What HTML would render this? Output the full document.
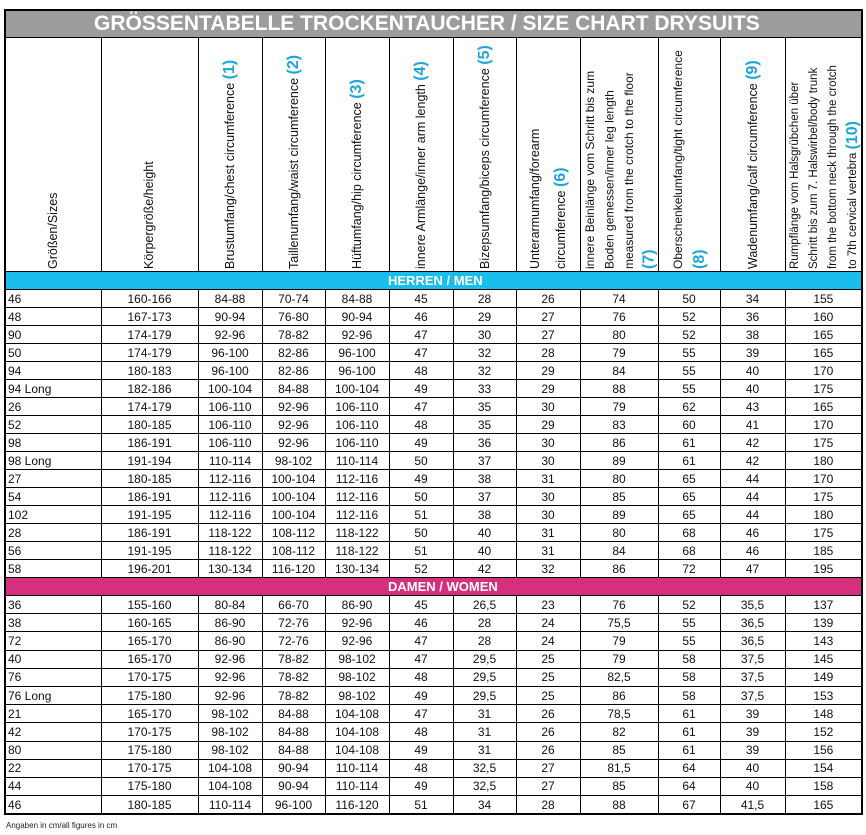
<!DOCTYPE html>
<html><head><meta charset="utf-8"><style>
html,body{margin:0;padding:0;background:#fff;width:866px;height:835px;overflow:hidden}
body{font-family:"Liberation Sans",Arial,sans-serif;position:relative}
table{position:absolute;left:4px;top:9px;border-collapse:collapse;table-layout:fixed;width:858px;border:2.5px solid #000}
td{border:1.3px solid #000;padding:0;font-size:12px;text-align:center;color:#111;overflow:hidden;white-space:nowrap;line-height:14px}
td.l{text-align:left;padding-left:2px}
tr.d td{height:17px}
tr.w td{height:17.2px}
.title td{background:#9c9c9c;color:#fff;font-weight:bold;font-size:21px;height:26px;text-align:left;padding-left:88px}
.hd td{height:233px;vertical-align:bottom}
.v{writing-mode:vertical-rl;transform:rotate(180deg);height:229px;text-align:left;font-size:12.5px;line-height:17px;white-space:nowrap;margin:0 auto 2px}
.n{color:#1ea6da;font-weight:bold;font-size:16px}
.band td{height:17px;color:#fff;font-weight:bold;font-size:13px;text-align:left;padding-left:382px}
.men td{background:#19bdee}
.wom td{background:#d5307d}
.foot{position:absolute;left:6px;top:821px;font-size:8px;color:#222}
</style></head><body>
<table>
<colgroup><col style="width:96px"><col style="width:97px"><col style="width:64px"><col style="width:63px"><col style="width:64px"><col style="width:64px"><col style="width:63px"><col style="width:64px"><col style="width:78px"><col style="width:62px"><col style="width:65px"><col style="width:77px"></colgroup>
<tr class="title"><td colspan="12">GRÖSSENTABELLE TROCKENTAUCHER / SIZE CHART DRYSUITS</td></tr>
<tr class="hd">
<td><div class="v">Größen/Sizes</div></td>
<td><div class="v">Körpergröße/height</div></td>
<td><div class="v">Brustumfang/chest circumference <span class="n">(1)</span></div></td>
<td><div class="v">Taillenumfang/waist circumference <span class="n">(2)</span></div></td>
<td><div class="v">Hüftumfang/hip circumference <span class="n">(3)</span></div></td>
<td><div class="v">innere Armlänge/inner arm length <span class="n">(4)</span></div></td>
<td><div class="v">Bizepsumfang/biceps circumference <span class="n">(5)</span></div></td>
<td><div class="v" style="line-height:26px">Unterarmumfang/forearm<br>circumference <span class="n">(6)</span></div></td>
<td><div class="v" style="line-height:19.5px;font-size:12px;margin-left:0">innere Beinlänge vom Schritt bis zum<br>Boden gemessen/inner leg length<br>measured from the crotch to the floor<br><span class="n">(7)</span></div></td>
<td><div class="v" style="line-height:22px;font-size:12px">Oberschenkelumfang/tight circumference<br><span class="n">(8)</span></div></td>
<td><div class="v">Wadenumfang/calf circumference <span class="n">(9)</span></div></td>
<td><div class="v" style="line-height:19px;font-size:11.5px;margin-left:0">Rumpflänge vom Halsgrübchen über<br>Schritt bis zum 7. Halswirbel/body trunk<br>from the bottom neck through the crotch<br>to 7th cervical vertebra <span class="n">(10)</span></div></td>
</tr>
<tr class="band men"><td colspan="12">HERREN / MEN</td></tr>
<tr class="d"><td class="l">46</td><td>160-166</td><td>84-88</td><td>70-74</td><td>84-88</td><td>45</td><td>28</td><td>26</td><td>74</td><td>50</td><td>34</td><td>155</td></tr>
<tr class="d"><td class="l">48</td><td>167-173</td><td>90-94</td><td>76-80</td><td>90-94</td><td>46</td><td>29</td><td>27</td><td>76</td><td>52</td><td>36</td><td>160</td></tr>
<tr class="d"><td class="l">90</td><td>174-179</td><td>92-96</td><td>78-82</td><td>92-96</td><td>47</td><td>30</td><td>27</td><td>80</td><td>52</td><td>38</td><td>165</td></tr>
<tr class="d"><td class="l">50</td><td>174-179</td><td>96-100</td><td>82-86</td><td>96-100</td><td>47</td><td>32</td><td>28</td><td>79</td><td>55</td><td>39</td><td>165</td></tr>
<tr class="d"><td class="l">94</td><td>180-183</td><td>96-100</td><td>82-86</td><td>96-100</td><td>48</td><td>32</td><td>29</td><td>84</td><td>55</td><td>40</td><td>170</td></tr>
<tr class="d"><td class="l">94 Long</td><td>182-186</td><td>100-104</td><td>84-88</td><td>100-104</td><td>49</td><td>33</td><td>29</td><td>88</td><td>55</td><td>40</td><td>175</td></tr>
<tr class="d"><td class="l">26</td><td>174-179</td><td>106-110</td><td>92-96</td><td>106-110</td><td>47</td><td>35</td><td>30</td><td>79</td><td>62</td><td>43</td><td>165</td></tr>
<tr class="d"><td class="l">52</td><td>180-185</td><td>106-110</td><td>92-96</td><td>106-110</td><td>48</td><td>35</td><td>29</td><td>83</td><td>60</td><td>41</td><td>170</td></tr>
<tr class="d"><td class="l">98</td><td>186-191</td><td>106-110</td><td>92-96</td><td>106-110</td><td>49</td><td>36</td><td>30</td><td>86</td><td>61</td><td>42</td><td>175</td></tr>
<tr class="d"><td class="l">98 Long</td><td>191-194</td><td>110-114</td><td>98-102</td><td>110-114</td><td>50</td><td>37</td><td>30</td><td>89</td><td>61</td><td>42</td><td>180</td></tr>
<tr class="d"><td class="l">27</td><td>180-185</td><td>112-116</td><td>100-104</td><td>112-116</td><td>49</td><td>38</td><td>31</td><td>80</td><td>65</td><td>44</td><td>170</td></tr>
<tr class="d"><td class="l">54</td><td>186-191</td><td>112-116</td><td>100-104</td><td>112-116</td><td>50</td><td>37</td><td>30</td><td>85</td><td>65</td><td>44</td><td>175</td></tr>
<tr class="d"><td class="l">102</td><td>191-195</td><td>112-116</td><td>100-104</td><td>112-116</td><td>51</td><td>38</td><td>30</td><td>89</td><td>65</td><td>44</td><td>180</td></tr>
<tr class="d"><td class="l">28</td><td>186-191</td><td>118-122</td><td>108-112</td><td>118-122</td><td>50</td><td>40</td><td>31</td><td>80</td><td>68</td><td>46</td><td>175</td></tr>
<tr class="d"><td class="l">56</td><td>191-195</td><td>118-122</td><td>108-112</td><td>118-122</td><td>51</td><td>40</td><td>31</td><td>84</td><td>68</td><td>46</td><td>185</td></tr>
<tr class="d"><td class="l">58</td><td>196-201</td><td>130-134</td><td>116-120</td><td>130-134</td><td>52</td><td>42</td><td>32</td><td>86</td><td>72</td><td>47</td><td>195</td></tr>
<tr class="band wom"><td colspan="12">DAMEN / WOMEN</td></tr>
<tr class="w"><td class="l">36</td><td>155-160</td><td>80-84</td><td>66-70</td><td>86-90</td><td>45</td><td>26,5</td><td>23</td><td>76</td><td>52</td><td>35,5</td><td>137</td></tr>
<tr class="w"><td class="l">38</td><td>160-165</td><td>86-90</td><td>72-76</td><td>92-96</td><td>46</td><td>28</td><td>24</td><td>75,5</td><td>55</td><td>36,5</td><td>139</td></tr>
<tr class="w"><td class="l">72</td><td>165-170</td><td>86-90</td><td>72-76</td><td>92-96</td><td>47</td><td>28</td><td>24</td><td>79</td><td>55</td><td>36,5</td><td>143</td></tr>
<tr class="w"><td class="l">40</td><td>165-170</td><td>92-96</td><td>78-82</td><td>98-102</td><td>47</td><td>29,5</td><td>25</td><td>79</td><td>58</td><td>37,5</td><td>145</td></tr>
<tr class="w"><td class="l">76</td><td>170-175</td><td>92-96</td><td>78-82</td><td>98-102</td><td>48</td><td>29,5</td><td>25</td><td>82,5</td><td>58</td><td>37,5</td><td>149</td></tr>
<tr class="w"><td class="l">76 Long</td><td>175-180</td><td>92-96</td><td>78-82</td><td>98-102</td><td>49</td><td>29,5</td><td>25</td><td>86</td><td>58</td><td>37,5</td><td>153</td></tr>
<tr class="w"><td class="l">21</td><td>165-170</td><td>98-102</td><td>84-88</td><td>104-108</td><td>47</td><td>31</td><td>26</td><td>78,5</td><td>61</td><td>39</td><td>148</td></tr>
<tr class="w"><td class="l">42</td><td>170-175</td><td>98-102</td><td>84-88</td><td>104-108</td><td>48</td><td>31</td><td>26</td><td>82</td><td>61</td><td>39</td><td>152</td></tr>
<tr class="w"><td class="l">80</td><td>175-180</td><td>98-102</td><td>84-88</td><td>104-108</td><td>49</td><td>31</td><td>26</td><td>85</td><td>61</td><td>39</td><td>156</td></tr>
<tr class="w"><td class="l">22</td><td>170-175</td><td>104-108</td><td>90-94</td><td>110-114</td><td>48</td><td>32,5</td><td>27</td><td>81,5</td><td>64</td><td>40</td><td>154</td></tr>
<tr class="w"><td class="l">44</td><td>175-180</td><td>104-108</td><td>90-94</td><td>110-114</td><td>49</td><td>32,5</td><td>27</td><td>85</td><td>64</td><td>40</td><td>158</td></tr>
<tr class="w"><td class="l">46</td><td>180-185</td><td>110-114</td><td>96-100</td><td>116-120</td><td>51</td><td>34</td><td>28</td><td>88</td><td>67</td><td>41,5</td><td>165</td></tr>
</table>
<div class="foot">Angaben in cm/all figures in cm</div>
</body></html>
